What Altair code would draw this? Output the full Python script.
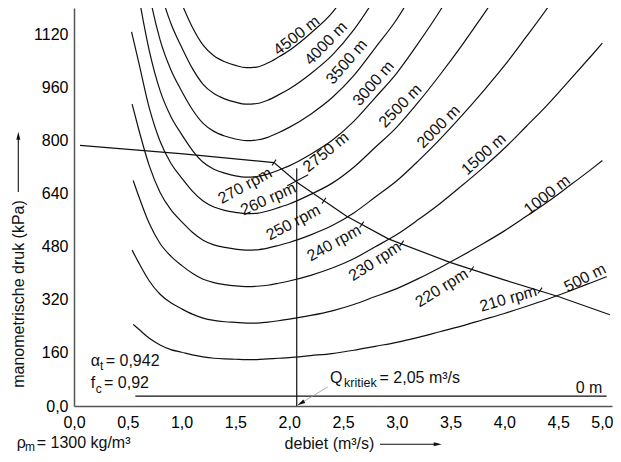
import altair as alt
import pandas as pd

FONT = "Liberation Sans"
INK = "#111111"

# ---------------- data ----------------
# pipeline curves: debiet q (m3/s) -> manometrische druk p (kPa)
q_0m = [0.57, 4.95]
p_0m = [30, 30]

q_500 = [0.55, 0.60, 0.70, 0.80, 0.90, 1.00, 1.10, 1.20, 1.30, 1.40, 1.50, 1.60, 1.70, 1.80, 1.90, 2.00,
         2.20, 2.40, 2.60, 2.80, 3.00, 3.20, 3.40, 3.60, 3.80, 4.00, 4.20, 4.40, 4.60, 4.80, 4.95]
p_500 = [246, 232, 204, 184, 170, 162, 154, 148, 144, 142, 141, 140, 140, 142, 144, 146,
         152, 158, 168, 180, 192, 207, 224, 241, 260, 279, 300, 322, 346, 371, 390]

q_1000 = [0.54, 0.60, 0.70, 0.80, 0.90, 1.00, 1.10, 1.20, 1.30, 1.40, 1.50, 1.60, 1.70, 1.80, 1.90, 2.00,
          2.20, 2.40, 2.60, 2.80, 3.00, 3.20, 3.40, 3.60, 3.80, 4.00, 4.20, 4.40, 4.60, 4.80, 4.91]
p_1000 = [470, 433, 377, 337, 311, 293, 277, 265, 258, 254, 252, 250, 250, 253, 257, 262,
          273, 287, 306, 330, 354, 384, 417, 452, 489, 528, 571, 615, 663, 712, 740]

q_1500 = [0.55, 0.60, 0.70, 0.80, 0.90, 1.00, 1.10, 1.20, 1.30, 1.40, 1.50, 1.60, 1.70, 1.80, 1.90, 2.00,
          2.20, 2.40, 2.60, 2.80, 3.00, 3.20, 3.40, 3.60, 3.80, 4.00, 4.20, 4.40, 4.60, 4.80, 4.91]
p_1500 = [680, 634, 550, 490, 452, 424, 400, 382, 372, 366, 362, 360, 361, 364, 370, 377,
          394, 416, 444, 480, 517, 562, 610, 663, 718, 777, 842, 908, 980, 1053, 1094]

q_2000 = [0.54, 0.60, 0.70, 0.80, 0.90, 1.00, 1.10, 1.20, 1.30, 1.40, 1.50, 1.60, 1.70, 1.80, 1.90, 2.00,
          2.20, 2.40, 2.60, 2.80, 3.00, 3.20, 3.40, 3.60, 3.80, 4.00, 4.20, 4.40, 4.50]
p_2000 = [910, 836, 724, 644, 592, 556, 524, 500, 486, 478, 473, 470, 471, 476, 484, 493,
          516, 544, 582, 630, 679, 739, 804, 874, 948, 1026, 1112, 1200, 1248]

q_2500 = [0.535, 0.60, 0.70, 0.80, 0.90, 1.00, 1.10, 1.20, 1.30, 1.40, 1.50, 1.60, 1.70, 1.80, 1.90, 2.00,
          2.20, 2.40, 2.60, 2.80, 3.00, 3.20, 3.40, 3.60, 3.80, 3.90]
p_2500 = [1128, 1038, 898, 798, 732, 688, 648, 618, 600, 590, 584, 580, 581, 588, 598, 609,
          638, 672, 720, 780, 841, 916, 998, 1085, 1178, 1225]

q_3000 = [0.55, 0.60, 0.70, 0.80, 0.90, 1.00, 1.10, 1.20, 1.30, 1.40, 1.50, 1.60, 1.70, 1.80, 1.90, 2.00,
          2.20, 2.40, 2.60, 2.80, 3.00, 3.20, 3.40, 3.50]
p_3000 = [1335, 1239, 1071, 951, 873, 819, 771, 735, 714, 702, 694, 690, 692, 699, 711, 724,
          759, 801, 858, 930, 1004, 1094, 1191, 1244]

q_3500 = [0.65, 0.70, 0.80, 0.90, 1.00, 1.10, 1.20, 1.30, 1.40, 1.50, 1.60, 1.70, 1.80, 1.90, 2.00,
          2.20, 2.40, 2.60, 2.80, 3.00, 3.10]
p_3500 = [1342, 1244, 1104, 1014, 950, 894, 852, 828, 814, 805, 800, 802, 810, 824, 840,
          880, 930, 996, 1080, 1166, 1218]

q_4000 = [0.75, 0.80, 0.90, 1.00, 1.10, 1.20, 1.30, 1.40, 1.50, 1.60, 1.70, 1.80, 1.90, 2.00,
          2.20, 2.40, 2.60, 2.80]
p_4000 = [1338, 1258, 1154, 1082, 1018, 970, 942, 926, 916, 910, 912, 922, 938, 956,
          1002, 1058, 1134, 1230]

q_4500 = [0.90, 1.00, 1.10, 1.20, 1.30, 1.40, 1.50, 1.60, 1.70, 1.80, 1.90, 2.00, 2.20, 2.40, 2.50]
p_4500 = [1294, 1214, 1142, 1088, 1056, 1038, 1027, 1020, 1022, 1034, 1052, 1072, 1124, 1186, 1229]

# descending line with the rpm marks
q_decl = [0.056, 1.015, 1.859, 2.075, 2.534, 2.921, 3.494, 3.99, 4.50, 4.98]
p_decl = [786, 760, 734, 674, 572, 504, 433, 381, 330, 275]

tick_q = [1.859, 2.323, 2.674, 3.045, 3.696, 4.331]
tick_p = [734, 619, 547, 490, 412, 348]
mark260_q = [1.982, 2.177]
mark260_p = [664, 697]

# critical flow
q_krit = 2.07
p_krit_top = 717
leader_q = [2.361, 2.108]
leader_p = [58, 8.4]

# rpm labels (hanging between the curves)
rpm_text = ["270 rpm", "260 rpm", "250 rpm", "240 rpm", "230 rpm", "220 rpm", "210 rpm"]
rpm_q = [1.589, 1.806, 2.038, 2.416, 2.797, 3.417, 4.036]
rpm_p = [664, 624, 553, 491, 436, 356, 323]
rpm_angle = [331, 336, 332, 331, 327, 328, 344]

# length labels (written along the curves)
len_text = ["500 m", "1000 m", "1500 m", "2000 m", "2500 m", "3000 m", "3500 m", "4000 m",
            "4500 m", "2750 m", "0 m"]
len_q = [4.758, 4.408, 3.82, 3.401, 3.046, 2.797, 2.549, 2.354, 2.08, 2.353, 4.786]
len_p = [381, 632, 755, 838, 901, 969, 1034, 1089, 1112, 761, 49]
len_angle = [333, 322, 318, 315, 314, 311, 311, 314, 322, 321, 0]

y_ticks = [0, 160, 320, 480, 640, 800, 960, 1120]
x_ticks = [0.0, 0.5, 1.0, 1.5, 2.0, 2.5, 3.0, 3.5, 4.0, 4.5, 5.0]

# ---------------- tables ----------------
curves = {
    "0 m": (q_0m, p_0m), "500 m": (q_500, p_500), "1000 m": (q_1000, p_1000),
    "1500 m": (q_1500, p_1500), "2000 m": (q_2000, p_2000), "2500 m": (q_2500, p_2500),
    "3000 m": (q_3000, p_3000), "3500 m": (q_3500, p_3500), "4000 m": (q_4000, p_4000),
    "4500 m": (q_4500, p_4500),
}
df_curves = pd.DataFrame([{"curve": k, "q": a, "p": b}
                          for k, (qs, ps) in curves.items() for a, b in zip(qs, ps)])
df_decl = pd.DataFrame({"q": q_decl, "p": p_decl})
df_ticks = pd.DataFrame({"q": tick_q, "p": tick_p})
df_m260 = pd.DataFrame({"q": [mark260_q[0]], "q2": [mark260_q[1]],
                        "p": [mark260_p[0]], "p2": [mark260_p[1]]})
df_qline = pd.DataFrame({"q": [q_krit], "p": [0], "p2": [p_krit_top]})
df_leader = pd.DataFrame({"q": [leader_q[0]], "q2": [leader_q[1]],
                          "p": [leader_p[0]], "p2": [leader_p[1]]})
df_head = pd.DataFrame({"q": [leader_q[1]], "p": [leader_p[1]]})
df_rpm = pd.DataFrame({"text": rpm_text, "q": rpm_q, "p": rpm_p, "ang": rpm_angle})
df_len = pd.DataFrame({"text": len_text, "q": len_q, "p": len_p, "ang": len_angle})

# ---------------- scales / axes ----------------
xs = alt.Scale(domain=[0, 5], nice=False, zero=False)
ys = alt.Scale(domain=[0, 1200], nice=False, zero=False)
xa = alt.Axis(values=x_ticks, labelExpr="replace(format(datum.value, '.1f'), '.', ',')",
              ticks=False, tickSize=0, grid=False, domainColor="#555555", domainWidth=1.5,
              labelFont=FONT, labelFontSize=16, labelColor="black", labelPadding=8,
              labelFlush=False, labelOverlap=False, title=None,
              labelAlign={"condition": {"test": "datum.value >= 5", "value": "right"},
                          "value": "center"},
              labelOffset={"condition": {"test": "datum.value >= 5", "value": 1}, "value": 0})
ya = alt.Axis(values=y_ticks,
              labelExpr="datum.value == 0 ? '0,0' : format(datum.value, 'd')",
              ticks=False, tickSize=0, grid=False, domainColor="#555555", domainWidth=1.5,
              labelFont=FONT, labelFontSize=16, labelColor="black", labelPadding=6,
              labelOverlap=False, title=None)


def X(f="q"):
    return alt.X(f + ":Q", scale=xs, axis=xa)


def Y(f="p"):
    return alt.Y(f + ":Q", scale=ys, axis=ya)


layers = []
layers.append(alt.Chart(df_curves).mark_line(color=INK, strokeWidth=1.2, interpolate="monotone",
                                              clip=True)
              .encode(x=X(), y=Y(), detail="curve:N"))
layers.append(alt.Chart(df_decl).mark_line(color=INK, strokeWidth=1.2, clip=True)
              .encode(x=X(), y=Y()))
layers.append(alt.Chart(df_qline).mark_rule(color=INK, strokeWidth=1.2)
              .encode(x=X(), y=Y(), y2=alt.Y2("p2:Q")))
layers.append(alt.Chart(df_m260).mark_rule(color=INK, strokeWidth=1.1)
              .encode(x=X(), x2=alt.X2("q2:Q"), y=Y(), y2=alt.Y2("p2:Q")))
layers.append(alt.Chart(df_ticks).mark_point(shape="stroke", angle=305, size=50, color=INK,
                                             strokeWidth=1.1, opacity=1)
              .encode(x=X(), y=Y()))
layers.append(alt.Chart(df_leader).mark_rule(color="#9a9a9a", strokeWidth=0.8)
              .encode(x=X(), x2=alt.X2("q2:Q"), y=Y(), y2=alt.Y2("p2:Q")))
layers.append(alt.Chart(df_head).mark_point(shape="M1,0L-1,-0.5L-1,0.5Z", filled=True, size=64,
                                            angle=150, color=INK, opacity=1)
              .encode(x=X(), y=Y()))
layers.append(alt.Chart(df_rpm).mark_text(font=FONT, fontSize=16, align="center",
                                          baseline="middle", color=INK)
              .encode(x=X(), y=Y(), text="text:N", angle=alt.Angle("ang:Q", scale=None)))
layers.append(alt.Chart(df_len).mark_text(font=FONT, fontSize=16, align="center",
                                          baseline="middle", color=INK, dy=-2)
              .encode(x=X(), y=Y(), text="text:N", angle=alt.Angle("ang:Q", scale=None)))

one = pd.DataFrame({"k": [0]})


def ptext(txt, x, y, size=16, align="left", baseline="alphabetic", angle=0):
    return (alt.Chart(one)
            .mark_text(text=txt, font=FONT, fontSize=size, align=align, baseline=baseline,
                       angle=angle, color=INK)
            .encode(x=alt.value(x), y=alt.value(y)))


# parameter annotations
layers += [
    ptext("\u03b1", 16.7, 357.7),
    ptext("t", 26, 361.5, size=12),
    ptext("= 0,942", 31.7, 357.7),
    ptext("f", 16.7, 380.3),
    ptext("c", 21.7, 384.5, size=12),
    ptext("= 0,92", 30, 380.3),
    ptext("Q", 256, 374.5),
    ptext("kritiek", 270, 378.5, size=12.5),
    ptext("= 2,05 m\u00b3/s", 305.5, 374.5),
    ptext("\u03c1", -57.3, 439.5),
    ptext("m", -49, 442.5, size=12),
    ptext("= 1300 kg/m\u00b3", -37.3, 439.5),
    ptext("debiet (m\u00b3/s)", 210.6, 441),
    ptext("manometrische druk (kPa)", -55, 286, align="center", baseline="middle", angle=270),
]

# axis-title arrows
layers.append(alt.Chart(one).mark_rule(color=INK, strokeWidth=1.1)
              .encode(x=alt.value(-55.7), y=alt.value(128), y2=alt.value(184)))
layers.append(alt.Chart(one).mark_point(shape="M0,-1L0.5,1L-0.5,1Z", filled=True, size=64,
                                        color=INK, opacity=1)
              .encode(x=alt.value(-55.7), y=alt.value(127.7)))
layers.append(alt.Chart(one).mark_rule(color=INK, strokeWidth=1.1)
              .encode(x=alt.value(306), x2=alt.value(364), y=alt.value(436.3)))
layers.append(alt.Chart(one).mark_point(shape="M1,0L-1,-0.5L-1,0.5Z", filled=True, size=64,
                                        color=INK, opacity=1)
              .encode(x=alt.value(363.7), y=alt.value(436.3)))

# whole chart: 66 + 538 + 1 = 605 wide, 0 + 398 + 48 = 446 high
# (page margins of 8 px on each side keep it inside 621 x 462)
chart = (alt.layer(*layers)
         .properties(width=538, height=398,
                     autosize=alt.AutoSizeParams(type="none"),
                     padding={"left": 66, "top": 0, "right": 1, "bottom": 48},
                     background="white")
         .configure_view(stroke=None))

chart.save("out.html", embed_options={"renderer": "svg", "actions": False})
